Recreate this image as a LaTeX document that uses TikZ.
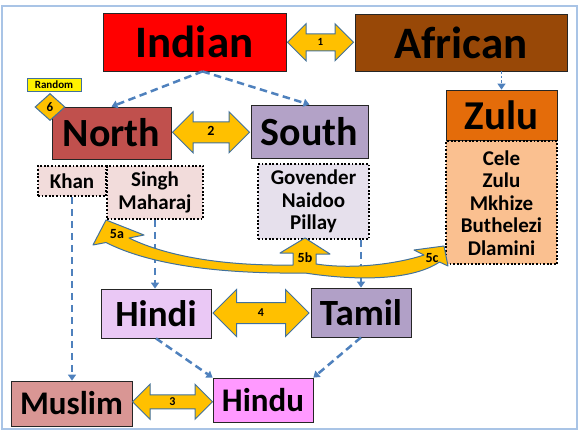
\documentclass[tikz,border=0pt]{standalone}
\usepackage{fontspec}
\setmainfont{Carlito}
\usetikzlibrary{shapes,arrows.meta,positioning,calc}
\definecolor{africanbrown}{HTML}{984807}
\definecolor{zuluorange}{HTML}{E46C0A}
\definecolor{zululight}{HTML}{FAC090}
\definecolor{northred}{HTML}{C0504D}
\definecolor{southlilac}{HTML}{B3A2C7}
\definecolor{northlight}{HTML}{F2DCDB}
\definecolor{southlight}{HTML}{E6E0EC}
\definecolor{hindililac}{HTML}{EAC8F5}
\definecolor{tamillilac}{HTML}{B1A0C7}
\definecolor{muslimrose}{HTML}{D99694}
\definecolor{hindupink}{HTML}{FF99FF}
\definecolor{blockyellow}{HTML}{FFC000}
\definecolor{blockedge}{HTML}{41719C}
\definecolor{linkblue}{HTML}{4F81BD}
\definecolor{frameblue}{HTML}{A9C4E6}

\begin{document}
\begin{tikzpicture}[x=1pt,y=-1pt,
  fs/.style={font=\bfseries\fontsize{#1}{#1}\selectfont},
  box/.style={draw=black!85,line width=.8pt,inner sep=0pt},
  names/.style={draw=black,line width=1.8pt,dash pattern=on 1.8pt off 1.8pt,inner sep=0pt,align=center,font=\bfseries\fontsize{21}{22.5}\selectfont},
  link/.style={linkblue,line width=2.5pt,dash pattern=on 7.5pt off 4.5pt,-{Triangle[length=6pt,width=8pt]}},
  dbl/.style={double arrow,draw=blockedge,fill=blockyellow,line width=1pt,inner xsep=0pt,text height=7pt,text depth=0pt}]
  \useasboundingbox (0,0) rectangle (583,434);
  \draw[frameblue,line width=1.5pt] (2,6) rectangle (577,429);

  \node[box,fill=red,minimum width=183pt,minimum height=58pt,fs=45] (indian) at (194.5,42) {Indian};
  \node[box,fill=africanbrown,minimum width=212pt,minimum height=57pt,fs=45] (african) at (461,42.5) {African};
  \node[box,fill=zuluorange,minimum width=111pt,minimum height=50pt,fs=41] (zulu) at (501.5,115) {Zulu};
  \node[names,fill=zululight,minimum width=111pt,minimum height=123pt,below=0pt of zulu] (zulunames) {Cele\\Zulu\\Mkhize\\Buthelezi\\Dlamini};
  \node[box,fill=northred,minimum width=119pt,minimum height=52pt,fs=40] (north) at (111.5,133) {North};
  \node[box,fill=southlilac,minimum width=117pt,minimum height=53pt,fs=40] (south) at (309.5,131.5) {South};
  \node[names,fill=northlight,minimum width=68pt,minimum height=30pt] (khan) at (72,181) {Khan};
  \node[names,fill=northlight,minimum width=96pt,minimum height=53pt] (singh) at (155,192.5) {Singh\\Maharaj};
  \node[names,fill=southlight,minimum width=111pt,minimum height=75pt] (govender) at (313.5,201.5) {Govender\\Naidoo\\Pillay};
  \node[box,fill=hindililac,minimum width=110pt,minimum height=49pt,fs=37] (hindi) at (156,313.5) {Hindi};
  \node[box,fill=tamillilac,minimum width=100pt,minimum height=49pt,fs=37] (tamil) at (361,312.5) {Tamil};
  \node[box,fill=muslimrose,minimum width=121pt,minimum height=45pt,fs=33] (muslim) at (71.5,403.5) {Muslim};
  \node[box,fill=hindupink,minimum width=100pt,minimum height=44pt,fs=33] (hindu) at (263,400) {Hindu};
  \node[box,fill=yellow,draw=blockedge,minimum width=54pt,minimum height=13pt,fs=11] (random) at (54,84.5) {Random};
  \node[diamond,draw=blockedge,fill=blockyellow,line width=1pt,minimum width=30pt,minimum height=27pt,inner sep=0pt,fs=13] (six) at (50,107) {6};

  \node[dbl,minimum height=66pt,inner ysep=4.5pt,double arrow head extend=10pt,fs=11] (a1) at ($(indian.east)!.5!(african.west)$) {1};
  \node[dbl,minimum height=77pt,inner ysep=6.5pt,double arrow head extend=10pt,fs=14] (a2) at ($(north.east)!.5!(south.west)$) {2};
  \node[dbl,minimum height=80pt,inner ysep=3pt,double arrow head extend=10.5pt,fs=12] (a3) at ($(muslim.east)!.5!(hindu.west)$) {3};
  \node[dbl,minimum height=96pt,inner ysep=6.5pt,double arrow head extend=13pt,fs=12] (a4) at ($(hindi.east)!.5!(tamil.west)$) {4};

  \coordinate (fork) at ($(indian.south)+(8,0)$);
  \draw[link] (fork) -- (north.north);
  \draw[link] (fork) -- (south.north);
  \draw[link,dash pattern=on 2.5pt off 2pt,line width=1.8pt] (zulu.north |- african.south) -- (zulu.north);
  \draw[link] (khan.south) -- (khan.south |- muslim.north);
  \draw[link] (singh.south) -- (singh.south |- hindi.north);
  \draw[link] (tamil.north |- govender.south) -- (tamil.north);
  \draw[link] (hindi.south) -- (hindu.north west);
  \draw[link] (tamil.south) -- (hindu.north east);

  \draw[blockedge,fill=blockyellow,line width=1pt,line join=round] (106,220) -- (144,235) -- (129,238)
    .. controls (170,258) and (230,266) .. (293,265) -- (293,253) -- (280,253) -- (305,238) -- (330,254) -- (316,254) -- (316,264)
    .. controls (355,270) and (400,263) .. (424,255) -- (414,250) -- (444,246) -- (448,266) -- (439.5,262)
    .. controls (410,282) and (350,280) .. (305,273) .. controls (220,274) and (150,265) .. (106,242.5) -- (93,245) -- cycle;
  \node[fs=14] (l5a) at (117,234) {5a};
  \node[fs=14] (l5b) at (305,258) {5b};
  \node[fs=14] (l5c) at (432,258) {5c};
\end{tikzpicture}
\end{document}
